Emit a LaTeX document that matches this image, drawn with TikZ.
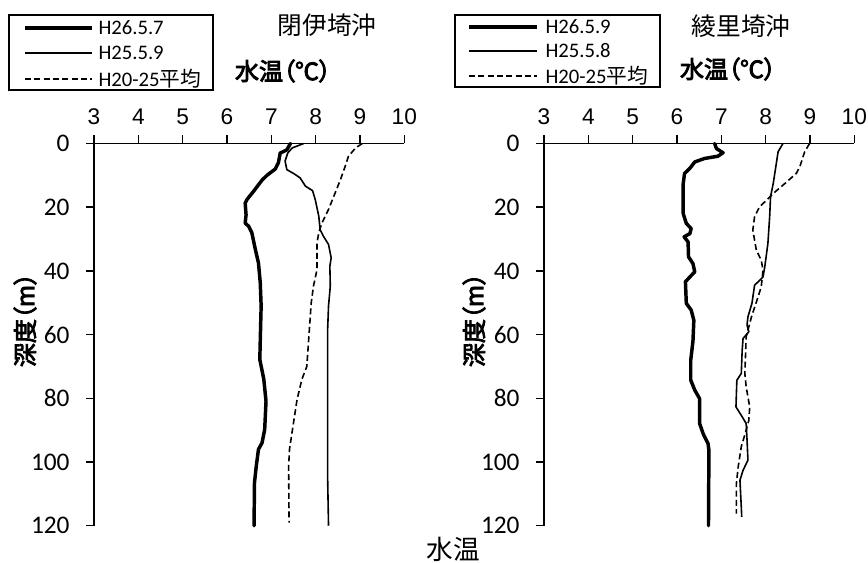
\documentclass[tikz,border=0pt]{standalone}
\usepackage{fontspec}
\newfontfamily\jpgothic{Noto Sans CJK JP}[AutoFakeBold=3.5,RawFeature=+palt]
\newfontfamily\numfont{Carlito}
\newfontfamily\axfont{Liberation Sans}

\tikzset{every picture/.style={line width=0.75pt}}
\tikzset{
  thickprof/.style={line width=2.6pt,line join=round,line cap=round},
  thinprof/.style={line width=1.2pt,line join=round},
  avgprof/.style={line width=1.2pt,dash pattern=on 4.5pt off 2.5pt},
  axisline/.style={line width=1.1pt},
  xlab/.style={font=\axfont\fontsize{17}{17}\selectfont,inner sep=0pt},
  ylab/.style={font=\numfont\fontsize{19}{19}\selectfont,anchor=east,inner sep=0pt},
  legtext/.style={font=\numfont\fontsize{15.5}{15.5}\selectfont,anchor=west,inner sep=0pt},
  titletext/.style={font=\jpgothic\fontsize{18.5}{18.5}\selectfont,inner sep=0pt},
  headtext/.style={font=\jpgothic\bfseries\fontsize{18}{18}\selectfont,inner sep=0pt},
}

\begin{document}
\begin{tikzpicture}[x=0.75pt,y=0.75pt,yscale=-1,xscale=1]
\useasboundingbox (0,0) rectangle (868,563);

%Left chart: 閉伊埼沖
\begin{scope}[shift={(-39,143.5)},x=33.25pt,y=2.389pt]
\draw[axisline] (3,0) -- (10,0);
\draw[axisline] (3,0) -- (3,120);
\foreach \t in {3,...,10}{
  \draw[axisline] (\t,0) -- ++(0pt,-6pt);
  \node[xlab] (lx\t) at (\t,-8.5) {\t};
}
\foreach \d in {0,20,...,120}{
  \draw[axisline] (3,\d) -- ++(-6pt,0pt);
  \node[ylab] (ly\d) at (2.46,\d) {\d};
}
% H26.5.7
\draw[thickprof] (7.43,0) -- (7.35,2) -- (7.2,3) -- (7.16,6) -- (7.09,8) -- (6.9,10) -- (6.79,11.5) -- (6.6,15) -- (6.45,17.6) -- (6.41,18.7) -- (6.43,22.4) -- (6.41,25) -- (6.49,26) -- (6.56,28) -- (6.64,33.3) -- (6.71,37.5) -- (6.75,43.7) -- (6.77,51) -- (6.75,62) -- (6.74,67.8) -- (6.83,74) -- (6.88,80.9) -- (6.85,89.8) -- (6.79,94) -- (6.71,96) -- (6.66,101.3) -- (6.62,106.5) -- (6.61,120);
% H25.5.9
\draw[thinprof] (7.73,0) -- (7.47,1.4) -- (7.37,3) -- (7.31,5.5) -- (7.35,8.2) -- (7.5,9.4) -- (7.65,10.8) -- (7.77,13.4) -- (7.93,14.8) -- (7.99,17.6) -- (8.07,22.8) -- (8.1,27) -- (8.17,29) -- (8.29,31.7) -- (8.35,35.9) -- (8.32,38.5) -- (8.33,44.8) -- (8.29,51) -- (8.27,58.4) -- (8.27,80) -- (8.27,105) -- (8.29,120);
% H20-25 average
\draw[avgprof] (9.05,0) -- (8.9,1.4) -- (8.74,4) -- (8.67,7) -- (8.56,11.3) -- (8.44,15.5) -- (8.29,20.7) -- (8.14,25) -- (8.07,28) -- (8.03,31.2) -- (8.03,39.6) -- (7.95,44.8) -- (7.9,50) -- (7.84,62) -- (7.8,70) -- (7.69,74) -- (7.58,80.4) -- (7.5,87.7) -- (7.41,96) -- (7.39,101.3) -- (7.4,119);
\end{scope}

%Right chart: 綾里埼沖
\begin{scope}[shift={(411,143.5)},x=33.25pt,y=2.389pt]
\draw[axisline] (3,0) -- (10,0);
\draw[axisline] (3,0) -- (3,120);
\foreach \t in {3,...,10}{
  \draw[axisline] (\t,0) -- ++(0pt,-6pt);
  \node[xlab] (rx\t) at (\t,-8.5) {\t};
}
\foreach \d in {0,20,...,120}{
  \draw[axisline] (3,\d) -- ++(-6pt,0pt);
  \node[ylab] (ry\d) at (2.46,\d) {\d};
}
% H26.5.9
\draw[thickprof] (6.85,0) -- (6.89,1.6) -- (7.04,2.9) -- (6.92,4) -- (6.62,4.7) -- (6.4,5.8) -- (6.29,7.8) -- (6.17,9.4) -- (6.14,12.6) -- (6.14,22) -- (6.21,25.1) -- (6.32,26.7) -- (6.29,28.3) -- (6.16,29.3) -- (6.25,30.9) -- (6.26,35.6) -- (6.36,37.7) -- (6.4,40.3) -- (6.29,41.9) -- (6.19,43.4) -- (6.21,50.2) -- (6.32,52.3) -- (6.38,55.5) -- (6.36,62) -- (6.31,68) -- (6.31,74.3) -- (6.4,77.4) -- (6.51,80.1) -- (6.51,87.9) -- (6.59,91.1) -- (6.7,94.2) -- (6.72,96.3) -- (6.71,120);
% H25.5.8
\draw[thinprof] (8.39,0) -- (8.28,2.6) -- (8.24,6.3) -- (8.17,12.6) -- (8.11,16.7) -- (8.09,23) -- (8.05,31.4) -- (7.98,38.7) -- (7.94,41.9) -- (7.75,44.5) -- (7.69,50.2) -- (7.6,54.4) -- (7.58,57) -- (7.62,59.1) -- (7.49,61.2) -- (7.47,64.9) -- (7.45,72.2) -- (7.35,74.3) -- (7.33,82.7) -- (7.47,85.8) -- (7.56,87.9) -- (7.58,93.1) -- (7.6,99.4) -- (7.49,102.6) -- (7.42,105.7) -- (7.45,114.1) -- (7.46,117.2);
% H20-25 average
\draw[avgprof] (8.99,0) -- (8.88,2.6) -- (8.77,7.3) -- (8.69,9.4) -- (8.43,12.6) -- (8.17,15.7) -- (8.02,17.8) -- (7.86,19.9) -- (7.75,23) -- (7.71,27.2) -- (7.79,33.5) -- (7.9,36.6) -- (7.94,39.8) -- (7.9,45) -- (7.83,48.1) -- (7.68,54.4) -- (7.56,60.7) -- (7.55,64.9) -- (7.53,72.2) -- (7.56,76.4) -- (7.64,82.7) -- (7.62,86.9) -- (7.56,90) -- (7.45,95.2) -- (7.38,101.5) -- (7.34,106.8) -- (7.34,116.2);
\end{scope}

%Legend left
\draw[line width=1pt] (9,15) rectangle (213,90);
\draw[thickprof,line cap=butt] (25,28) -- (92,28);
\draw[thinprof] (25,53) -- (92,53);
\draw[avgprof] (25,79) -- (92,79);
\node[legtext] (lleg1) at (98,28) {H26.5.7};
\node[legtext] (lleg2) at (98,53) {H25.5.9};
\node[legtext] (lleg3) at (98,79) {H20-25{\jpgothic 平均}};

%Legend right
\draw[line width=1pt] (455,15) rectangle (660,87);
\draw[thickprof,line cap=butt] (469,27) -- (537,27);
\draw[thinprof] (469,51) -- (537,51);
\draw[avgprof] (469,76) -- (537,76);
\node[legtext] (rleg1) at (545,27) {H26.5.9};
\node[legtext] (rleg2) at (545,51) {H25.5.8};
\node[legtext] (rleg3) at (545,76) {H20-25{\jpgothic 平均}};

% Text Node
\node[titletext] (ltitle) at (327,25) {閉伊埼沖};
\node[headtext] (lhead) at (283,71) {水温（℃）};
\node[titletext] (rtitle) at (741,26) {綾里埼沖};
\node[headtext] (rhead) at (728,69) {水温（℃）};
\node[headtext,rotate=90] (ldepth) at (25,320) {深度（m）};
\node[headtext,rotate=90] (rdepth) at (474,320) {深度（m）};
\node[font=\jpgothic\fontsize{20}{20}\selectfont,inner sep=0pt] (xcap) at (453,549) {水温};

\end{tikzpicture}
\end{document}
